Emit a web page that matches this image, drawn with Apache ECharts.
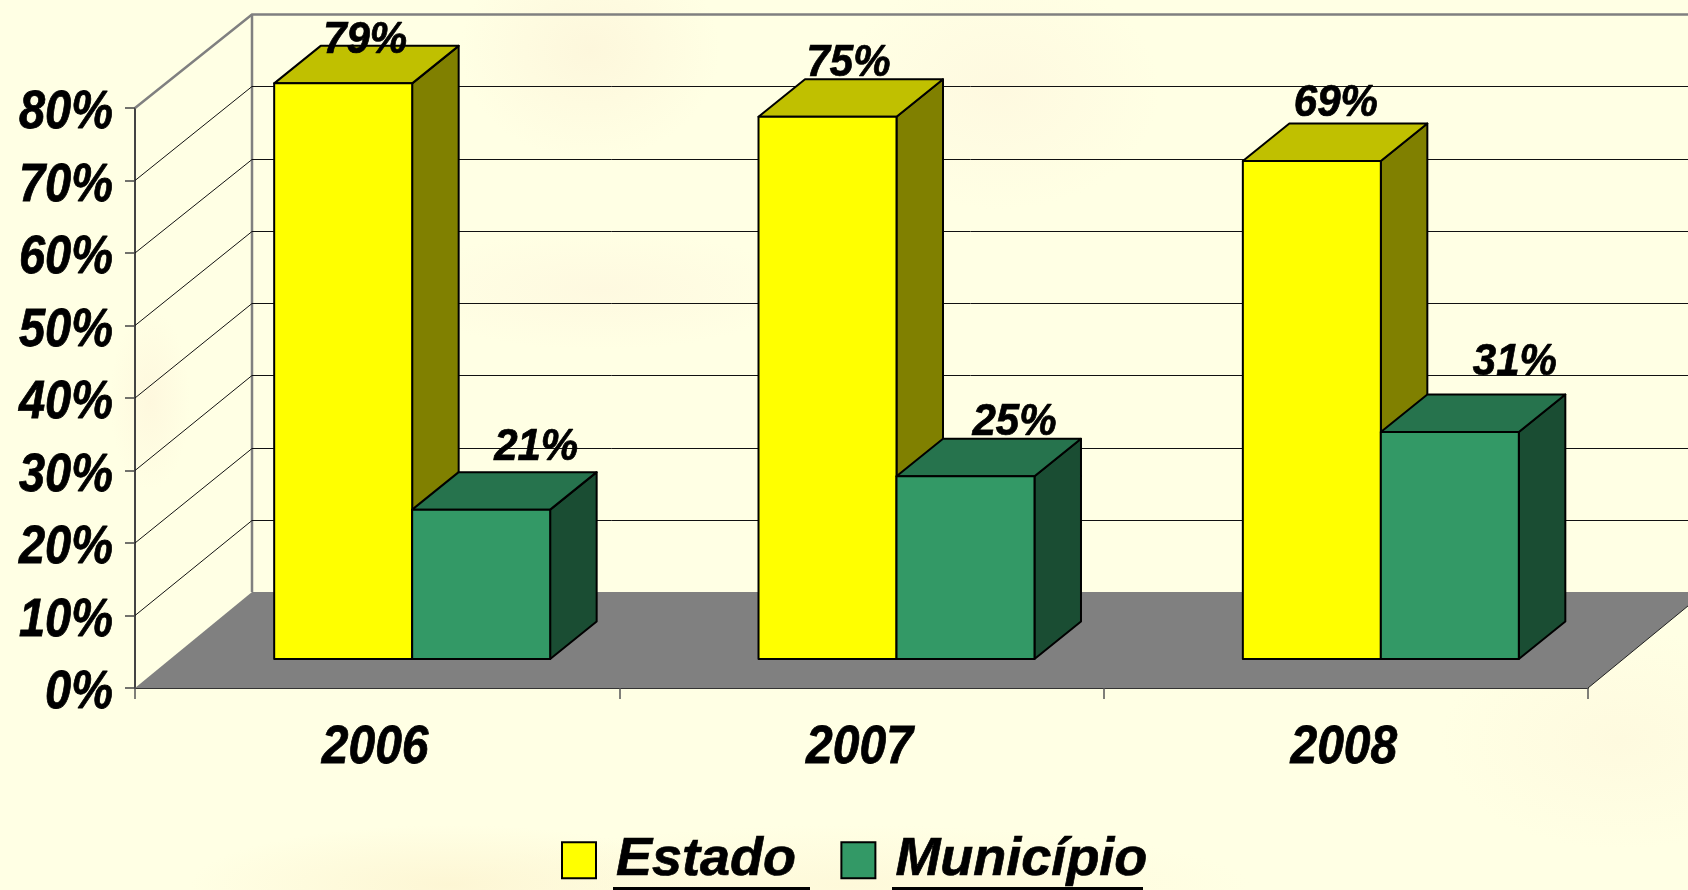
<!DOCTYPE html>
<html><head><meta charset="utf-8">
<style>
html,body{margin:0;padding:0;width:1688px;height:890px;overflow:hidden;
background:
radial-gradient(ellipse 130px 110px at 590px 50px,#fdf7dc 0%,rgba(253,247,220,0) 100%),
radial-gradient(ellipse 200px 60px at 600px 290px,#fef9e0 0%,rgba(254,249,224,0) 100%),
radial-gradient(ellipse 160px 120px at 1000px 90px,#fef9e0 0%,rgba(254,249,224,0) 100%),
radial-gradient(ellipse 40px 90px at 150px 400px,#fef8de 0%,rgba(254,248,222,0) 100%),
radial-gradient(ellipse 260px 60px at 450px 885px,#fdf6d4 0%,rgba(253,246,212,0) 100%),
radial-gradient(ellipse 180px 110px at 1620px 740px,#fefadf 0%,rgba(254,250,223,0) 100%),
radial-gradient(ellipse 400px 60px at 850px 885px,#fef9da 0%,rgba(254,249,218,0) 100%),
#ffffe4;}
#c{width:1688px;height:890px;}
</style></head><body><div id="c"></div>
<script src="https://cdn.jsdelivr.net/npm/echarts@6/dist/echarts.min.js"></script>
<script>
const categories = ['2006','2007','2008'];
const estado = [79.4,74.8,68.7];
const municipio = [20.6,25.2,31.3];
const yTicks = [0,10,20,30,40,50,60,70,80];
const yTickLabels = ['0%','10%','20%','30%','40%','50%','60%','70%','80%'];

// pixel layout of the oblique 3D projection
const DX=117;                   // full depth of the chart floor
const depthY=v=>96-v*0.025;     // depth rise of a wall line at value v
const BAR_DX=35, BAR_DY=29;     // front of the bar row from the front edge
const SIDE_DX=46.5, SIDE_DY=37.5; // depth of a bar
const BAND_PER_BAR=3.51;
const font=s=>'italic bold '+s+'px "Liberation Sans", Arial, sans-serif';
const heavy={stroke:'#000',lineWidth:0.7};
// hand placement of the value labels in the original [dx, dy] from the top face
const nudgeE=[[91,9.6],[90,0],[93,-5]];
const nudgeM=[[124,-9],[118,-1],[134,-17]];

function wallItem(params, api){
  const v=api.value(0), band=api.size([1,0])[0];
  const c=api.coord([0,v]);
  const L=c[0]-band/2, y=c[1];
  const R=L+band*categories.length;
  const top=v===yTicks[yTicks.length-1];
  const stroke=top?{stroke:'#808080',lineWidth:2.5}:{stroke:'#111',lineWidth:1};
  const dy=depthY(v);
  const kids=[];
  if(v===0){
    kids.push({type:'polygon',shape:{points:[[L,y],[L+DX,y-dy],[R+DX,y-dy],[R,y]]},style:{fill:'#808080',stroke:null}});
    kids.push({type:'line',shape:{x1:R,y1:y,x2:R+DX,y2:y-dy},style:{stroke:'#222',lineWidth:1}});
    const tv=yTicks[yTicks.length-1];
    const t=api.coord([0,tv])[1];
    kids.push({type:'line',shape:{x1:L+DX,y1:t-depthY(tv),x2:L+DX,y2:y-dy},style:{stroke:'#808080',lineWidth:2.5}});
  } else {
    const by=Math.round(y-dy)+0.5;
    kids.push({type:'polyline',shape:{points:[[L,y],[L+DX,by],[R+DX,by]]},style:Object.assign({fill:null},stroke)});
  }
  return {type:'group',children:kids};
}

function barItem(offset,fill,topFill,sideFill){
  return function(params,api){
    const i=api.value(0), val=api.value(1);
    const band=api.size([1,0])[0];
    const w=band/BAND_PER_BAR;
    const cx=api.coord([i,0])[0];
    const x0=cx+BAR_DX+offset*w-w;
    const x1=x0+w;
    const y0=api.coord([i,0])[1];
    const b=y0-BAR_DY;
    const t=b-(y0-api.coord([i,val])[1]);
    const st={stroke:'#000',lineWidth:2,lineJoin:'round'};
    return {type:'group',children:[
      {type:'polygon',shape:{points:[[x1,b],[x1+SIDE_DX,b-SIDE_DY],[x1+SIDE_DX,t-SIDE_DY],[x1,t]]},style:Object.assign({fill:sideFill},st)},
      {type:'polygon',shape:{points:[[x0,t],[x0+SIDE_DX,t-SIDE_DY],[x1+SIDE_DX,t-SIDE_DY],[x1,t]]},style:Object.assign({fill:topFill},st)},
      {type:'rect',shape:{x:x0,y:t,width:w,height:b-t},style:Object.assign({fill:fill},st)}
    ]};
  };
}

function labelItem(offset,nudges){
  return function(params,api){
    const i=api.value(0), val=api.value(1);
    const band=api.size([1,0])[0], w=band/BAND_PER_BAR;
    const cx=api.coord([i,0])[0];
    const x0=cx+BAR_DX+offset*w-w;
    const t=api.coord([i,val])[1]-BAR_DY-SIDE_DY;
    return {type:'text',x:x0+nudges[i][0],y:t+nudges[i][1]-15,scaleY:1.06,
      style:Object.assign({text:Math.round(val)+'%',font:font(42),fill:'#000',align:'center',verticalAlign:'middle'},heavy)};
  };
}

function pairs(arr){return arr.map((v,i)=>[i,v]);}
const enc={x:0,y:1};

const option={
  animation:false,
  backgroundColor:'transparent',
  grid:{left:135,right:100,top:108,bottom:202,containLabel:false},
  legend:{left:561,top:833,padding:0,itemWidth:34,itemHeight:36,icon:'rect',itemGap:44,
    selectedMode:false,
    data:['Estado','Município'],
    textStyle:{fontFamily:'"Liberation Sans", Arial, sans-serif',fontStyle:'italic',fontWeight:'bold',fontSize:54,color:'#000',padding:[0,0,0,15],textBorderColor:'#000',textBorderWidth:0.7}},
  xAxis:{type:'category',data:categories,
    axisLine:{lineStyle:{color:'#333',width:2}},
    axisTick:{show:true,length:11,alignWithLabel:false,lineStyle:{color:'#555',width:1.5}},
    axisLabel:{show:false},splitLine:{show:false}},
  yAxis:{type:'value',min:0,max:80,interval:10,
    axisLine:{show:true,lineStyle:{color:'#444',width:2}},
    axisTick:{show:true,length:10,lineStyle:{color:'#444',width:1.5}},
    axisLabel:{show:false},splitLine:{show:false}},
  graphic:[
    {type:'rect',shape:{x:613,y:887,width:197,height:3},style:{fill:'#000'}},
    {type:'rect',shape:{x:892,y:887,width:251,height:3},style:{fill:'#000'}}
  ],
  series:[
    {type:'custom',name:'walls',z:1,silent:true,data:yTicks.map(v=>[v]),encode:{y:0},renderItem:wallItem,clip:false},
    {type:'custom',name:'Estado',z:2,itemStyle:{color:'#FFFF00',borderColor:'#000',borderWidth:2},data:pairs(estado),encode:enc,
      renderItem:barItem(0,'#FFFF00','#C0C000','#808000')},
    {type:'custom',name:'Município',z:3,itemStyle:{color:'#339966',borderColor:'#000',borderWidth:2},data:pairs(municipio),encode:enc,
      renderItem:barItem(1,'#339966','#26734D','#1A4D33')},
    {type:'custom',name:'labelsE',z:5,silent:true,data:pairs(estado),encode:enc,renderItem:labelItem(0,nudgeE)},
    {type:'custom',name:'labelsM',z:5,silent:true,data:pairs(municipio),encode:enc,renderItem:labelItem(1,nudgeM)},
    {type:'custom',name:'yLabels',z:5,silent:true,data:yTicks.map((v,i)=>[v,i]),encode:{y:0},
      renderItem:(p,api)=>{const v=api.value(0),i=api.value(1),c=api.coord([0,v]);
        const L=c[0]-api.size([1,0])[0]/2;
        return {type:'text',x:L-22,y:c[1]+5,scaleY:1.16,style:Object.assign({text:yTickLabels[i],font:font(47),fill:'#000',align:'right',verticalAlign:'middle'},heavy)};}},
    {type:'custom',name:'xLabels',z:5,silent:true,data:categories.map((c,i)=>[i]),encode:{x:0},
      renderItem:(p,api)=>{const i=api.value(0),c=api.coord([i,0]);
        return {type:'text',x:c[0]-2,y:c[1]+60,scaleY:1.1,style:Object.assign({text:categories[i],font:font(48),fill:'#000',align:'center',verticalAlign:'middle'},heavy)};}}
  ]
};
const chart=echarts.init(document.getElementById('c'),null,{renderer:'canvas',width:1688,height:890});
chart.setOption(option);
</script></body></html>
